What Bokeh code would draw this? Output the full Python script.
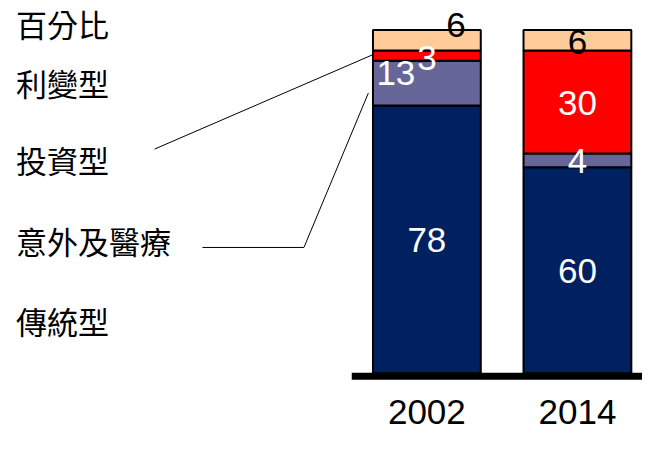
from bokeh.plotting import figure
from bokeh.models import ColumnDataSource, Range1d
from bokeh.core.properties import value
from bokeh.embed import file_html
from bokeh.resources import INLINE

# ---- data ----
years = ["2002", "2014"]
categories = ["傳統型", "意外及醫療", "投資型", "利變型"]
traditional = [78, 60]
accident_medical = [13, 4]
investment = [3, 30]
interest_sensitive = [6, 6]
axis_title = "百分比"

colors = ["#002060", "#666699", "#FF0000", "#FFCC99"]
label_colors = ["white", "white", "white", "black"]

# ---- geometry helpers (reference pixels -> figure data) ----
W, H = 642, 437
SX, SY = W / 658.0, H / 453.0
X0_PX, XSCALE = 437.0 * SX, 154.3 * SX      # figure px of x=0, px per unit
Y0_PX, YSCALE = 386.5 * SY, 3.56 * SY       # figure px (from top) of y=0, px per unit


def X(ref_x):
    return (ref_x * SX - X0_PX) / XSCALE


def Y(ref_y):
    return (Y0_PX - ref_y * SY) / YSCALE


p = figure(width=W, height=H, output_backend="svg", toolbar_location=None,
           x_range=Range1d(-X0_PX / XSCALE, (W - X0_PX) / XSCALE),
           y_range=Range1d(-(H - Y0_PX) / YSCALE, Y0_PX / YSCALE),
           min_border=0)
p.axis.visible = False
p.grid.visible = False
p.outline_line_color = None
p.background_fill_color = "white"

xs = list(range(len(years)))
series = [traditional, accident_medical, investment, interest_sensitive]
keys = ["s%d" % i for i in range(len(series))]
data = {"x": xs}
for k, s in zip(keys, series):
    data[k] = s
src = ColumnDataSource(data)
p.vbar_stack(keys, x="x", width=110.5 / 154.3, color=colors, line_color="black",
             line_width=2, source=src)

# baseline
p.line([X(360), X(658)], [Y(389.5), Y(389.5)], line_color="black", line_width=7)

# data labels
lx, ly, lt, lc, dx, dy = [], [], [], [], [], []
offsets = {(0, 1): (-31, -10), (0, 2): (0, 2), (0, 3): (29, -15),
           (1, 3): (0, 2)}
for j, x in enumerate(xs):
    base = 0
    for i, s in enumerate(series):
        v = s[j]
        lx.append(x)
        ly.append(base + v / 2)
        lt.append(str(v))
        lc.append(label_colors[i])
        o = offsets.get((j, i), (0, 1))
        dx.append(o[0])
        dy.append(o[1])
        base += v
p.text(x=lx, y=ly, text=lt, text_color=lc, x_offset=dx, y_offset=dy,
       text_align="center", text_baseline="middle",
       text_font=value("Liberation Sans"), text_font_size="35px")

# year labels
p.text(x=xs, y=[Y(427)] * len(xs), text=years, text_align="center",
       text_baseline="middle", text_font=value("Liberation Sans"),
       text_font_size="35px", text_color="black")

# left legend-like labels
p.text(x=[X(16)], y=[Y(0)], text=[axis_title], text_align="left",
       text_baseline="top", text_font=value("Noto Sans CJK TC"),
       text_font_size="31px", text_color="black")
left_texts = categories[::-1]
left_y = [85, 165, 249, 332]
p.text(x=[X(16)] * len(left_texts), y=[Y(v) for v in left_y], text=left_texts,
       text_align="left", text_baseline="middle",
       text_font=value("Noto Sans CJK TC"), text_font_size="31px",
       text_color="black")

# leader lines
p.line([X(158), X(382)], [Y(154), Y(56)], line_color="black", line_width=1)
p.line([X(207), X(311), X(377)], [Y(256), Y(256), Y(96)], line_color="black",
       line_width=1)

open("out.html", "w").write(file_html(p, INLINE))
